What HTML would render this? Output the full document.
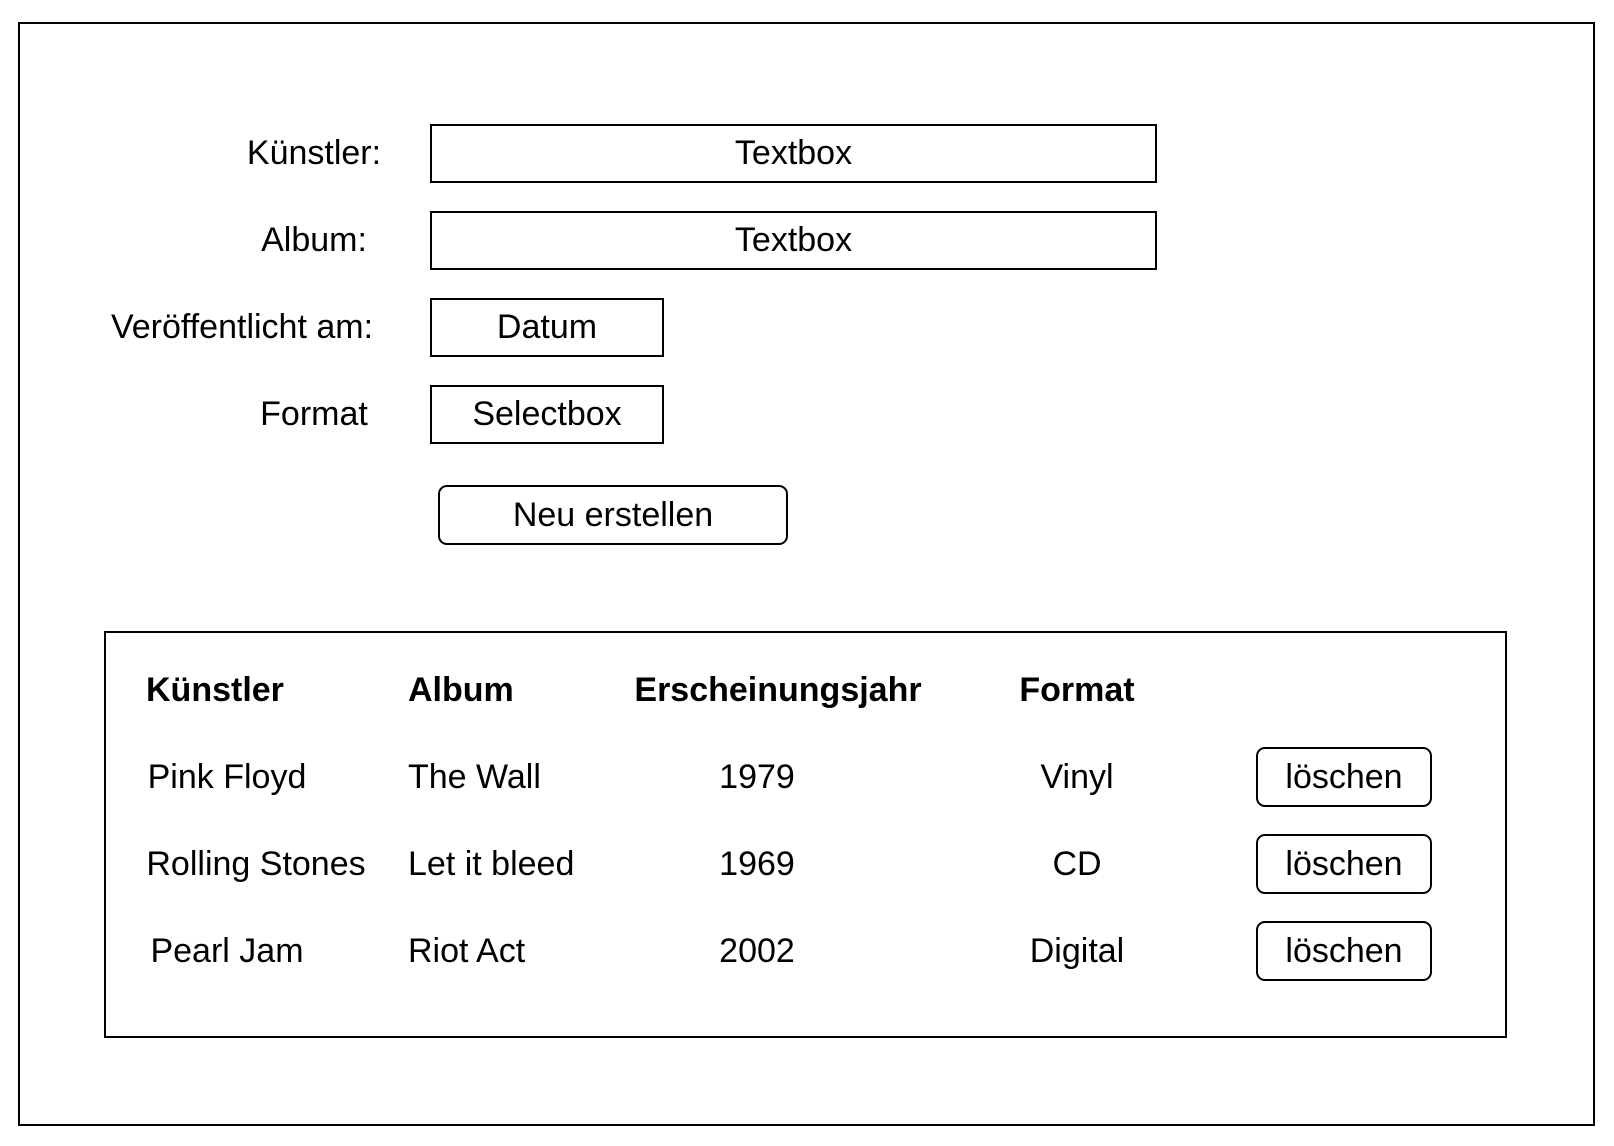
<!DOCTYPE html>
<html><head><meta charset="utf-8"><style>
html,body{margin:0;padding:0;background:#fff;}
body{width:1614px;height:1146px;position:relative;overflow:hidden;font-family:"Liberation Sans",Arial,sans-serif;color:#000;}
.b{position:absolute;box-sizing:border-box;border:2.5px solid #000;display:flex;align-items:center;justify-content:center;font-size:34px;}
.r{border-radius:9px;}
.t{position:absolute;font-size:34px;white-space:nowrap;transform:translate(-50%,-50%);line-height:1;}
.l{position:absolute;font-size:34px;white-space:nowrap;transform:translateY(-50%);line-height:1;}
.h{font-weight:bold;}
</style></head><body>
<div class="b" style="left:18px;top:22px;width:1577px;height:1104px;"></div>

<div class="t" style="left:314px;top:153px;">Künstler:</div>
<div class="t" style="left:314px;top:240px;">Album:</div>
<div class="t" style="left:242px;top:327px;">Veröffentlicht am:</div>
<div class="t" style="left:314px;top:414px;">Format</div>

<div class="b" style="left:430px;top:124px;width:727px;height:59px;">Textbox</div>
<div class="b" style="left:430px;top:211px;width:727px;height:59px;">Textbox</div>
<div class="b" style="left:430px;top:298px;width:234px;height:59px;">Datum</div>
<div class="b" style="left:430px;top:385px;width:234px;height:59px;">Selectbox</div>
<div class="b r" style="left:438px;top:485px;width:350px;height:60px;">Neu erstellen</div>

<div class="b" style="left:104px;top:631px;width:1403px;height:407px;"></div>

<div class="l h" style="left:146px;top:690px;">Künstler</div>
<div class="l h" style="left:408px;top:690px;">Album</div>
<div class="t h" style="left:778px;top:690px;">Erscheinungsjahr</div>
<div class="t h" style="left:1077px;top:690px;">Format</div>

<div class="t" style="left:227px;top:777px;">Pink Floyd</div>
<div class="l" style="left:408px;top:777px;">The Wall</div>
<div class="t" style="left:757px;top:777px;">1979</div>
<div class="t" style="left:1077px;top:777px;">Vinyl</div>

<div class="t" style="left:256px;top:864px;">Rolling Stones</div>
<div class="l" style="left:408px;top:864px;">Let it bleed</div>
<div class="t" style="left:757px;top:864px;">1969</div>
<div class="t" style="left:1077px;top:864px;">CD</div>

<div class="t" style="left:227px;top:951px;">Pearl Jam</div>
<div class="l" style="left:408px;top:951px;">Riot Act</div>
<div class="t" style="left:757px;top:951px;">2002</div>
<div class="t" style="left:1077px;top:951px;">Digital</div>

<div class="b r" style="left:1256px;top:747px;width:176px;height:60px;">löschen</div>
<div class="b r" style="left:1256px;top:834px;width:176px;height:60px;">löschen</div>
<div class="b r" style="left:1256px;top:921px;width:176px;height:60px;">löschen</div>
</body></html>
